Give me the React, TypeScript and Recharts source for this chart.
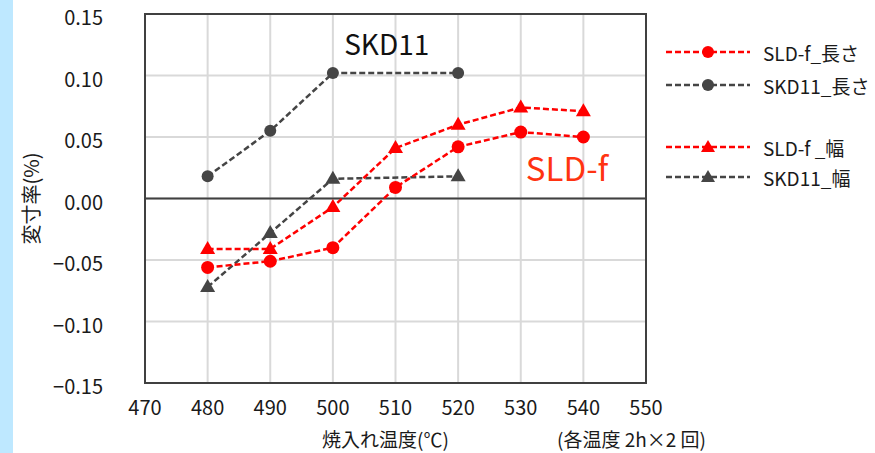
import React from 'react';
import {
  LineChart, Line, XAxis, YAxis, CartesianGrid, ReferenceLine, ReferenceArea, ReferenceDot, Label,
} from 'recharts';

// 焼入れ温度 (℃)
const temps = [480, 490, 500, 510, 520, 530, 540];
// 変寸率 (%)
const sldLength = [-0.056, -0.051, -0.040, 0.009, 0.042, 0.054, 0.050];
const skdLength = [0.018, 0.055, 0.102, null, 0.102, null, null];
const sldWidth = [-0.041, -0.041, -0.007, 0.041, 0.060, 0.074, 0.071];
const skdWidth = [-0.072, -0.028, 0.016, null, 0.018, null, null];

const xTicks = [470, 480, 490, 500, 510, 520, 530, 540, 550];
const yTicks = [-0.15, -0.1, -0.05, 0, 0.05, 0.1, 0.15];

const RED = '#ff0000';
const GREY = '#454545';
const FONT = '"Noto Sans CJK JP", "Noto Sans", sans-serif';

const data = temps.map((t, i) => ({
  temp: t,
  sldLength: sldLength[i],
  skdLength: skdLength[i],
  sldWidth: sldWidth[i],
  skdWidth: skdWidth[i],
}));

const legendItems = [
  { name: 'SLD-f_長さ', color: RED, shape: 'circle', top: 52 },
  { name: 'SKD11_長さ', color: GREY, shape: 'circle', top: 85 },
  { name: 'SLD-f _幅', color: RED, shape: 'triangle', top: 147 },
  { name: 'SKD11_幅', color: GREY, shape: 'triangle', top: 177 },
];

const triangle = (color: string) => (props: any) => {
  const { cx, cy, index } = props;
  if (cx == null || cy == null) return <g key={`t-${index}`} />;
  return (
    <polygon
      key={`t-${index}`}
      points={`${cx},${cy - 8} ${cx - 7.5},${cy + 5} ${cx + 7.5},${cy + 5}`}
      fill={color}
    />
  );
};

const fmt = (v: number) => (v < 0 ? '−' + Math.abs(v).toFixed(2) : v.toFixed(2));

const Legend4: React.FC = () => (
  <div style={{ position: 'absolute', left: 0, top: 0, width: 875, height: 453, pointerEvents: 'none' }}>
    {legendItems.map((it) => (
      <div key={it.name} style={{ position: 'absolute', left: 664, top: it.top - 12, height: 24, display: 'flex', alignItems: 'center' }}>
        <svg width={90} height={24}>
          <line x1={2} y1={12} x2={86} y2={12} stroke={it.color} strokeWidth={2.5} strokeDasharray="6 3" />
          {it.shape === 'circle' ? (
            <circle cx={44} cy={12} r={6} fill={it.color} />
          ) : (
            <polygon points="44,5 37,17 51,17" fill={it.color} />
          )}
        </svg>
        <span style={{ fontFamily: FONT, fontSize: 19, color: '#1a1a1a', marginLeft: 9, whiteSpace: 'nowrap' }}>{it.name}</span>
      </div>
    ))}
  </div>
);

export default function App() {
  return (
    <div style={{ position: 'relative', width: 875, height: 453, background: '#fff', overflow: 'hidden' }}>
      <style>{'body{margin:0}'}</style>
      <div style={{ position: 'absolute', left: 0, top: 0, width: 13, height: 453, background: '#bee8ff' }} />
      <LineChart
        width={875}
        height={453}
        data={data}
        margin={{ top: 14, right: 229, bottom: 0, left: 0 }}
        style={{ fontFamily: FONT }}
      >
        <CartesianGrid stroke="#d9d9d9" strokeWidth={2} />
        <XAxis
          dataKey="temp"
          type="number"
          domain={[470, 550]}
          ticks={xTicks}
          height={70}
          axisLine={false}
          tickLine={false}
          tickSize={0}
          tickMargin={18}
          tick={{ fill: '#1a1a1a', fontSize: 20 }}
        >
          <Label value="焼入れ温度(℃)" position="insideBottom" offset={6} dx={-10} style={{ fill: '#1a1a1a', fontSize: 19 }} />
          <Label value="(各温度 2h×2 回)" position="insideBottom" offset={6} dx={236} style={{ fill: '#1a1a1a', fontSize: 19 }} />
        </XAxis>
        <YAxis
          type="number"
          domain={[-0.15, 0.15]}
          ticks={yTicks}
          width={145}
          axisLine={false}
          tickLine={false}
          tickSize={0}
          tickMargin={42}
          tickFormatter={fmt}
          tick={{ fill: '#1a1a1a', fontSize: 20, dy: 4 }}
        >
          <Label value="変寸率(%)" position="center" angle={-90} dx={-41} style={{ fill: '#1a1a1a', fontSize: 20 }} />
        </YAxis>
        <ReferenceArea x1={470} x2={550} y1={-0.15} y2={0.15} fill="none" stroke="#404040" strokeWidth={2} ifOverflow="visible" />
        <ReferenceLine y={0} stroke="#404040" strokeWidth={2} />
        <ReferenceDot x={508.6} y={0.125} r={0} fill="none" stroke="none"
          label={{ value: 'SKD11', position: 'center', fill: '#111', fontSize: 28 }} />
        <ReferenceDot x={537.4} y={0.024} r={0} fill="none" stroke="none"
          label={{ value: 'SLD-f', position: 'center', fill: '#ff3311', fontSize: 33 }} />
        <Line
          dataKey="skdLength"
          type="linear"
          stroke={GREY}
          strokeWidth={2.5}
          strokeDasharray="6 3"
          connectNulls
          dot={{ r: 6, fill: GREY, stroke: 'none' }}
          isAnimationActive={false}
        />
        <Line
          dataKey="skdWidth"
          type="linear"
          stroke={GREY}
          strokeWidth={2.5}
          strokeDasharray="6 3"
          connectNulls
          dot={triangle(GREY)}
          isAnimationActive={false}
        />
        <Line
          dataKey="sldLength"
          type="linear"
          stroke={RED}
          strokeWidth={2.5}
          strokeDasharray="6 3"
          dot={{ r: 6.5, fill: RED, stroke: 'none' }}
          isAnimationActive={false}
        />
        <Line
          dataKey="sldWidth"
          type="linear"
          stroke={RED}
          strokeWidth={2.5}
          strokeDasharray="6 3"
          dot={triangle(RED)}
          isAnimationActive={false}
        />
      </LineChart>
      <Legend4 />
    </div>
  );
}
